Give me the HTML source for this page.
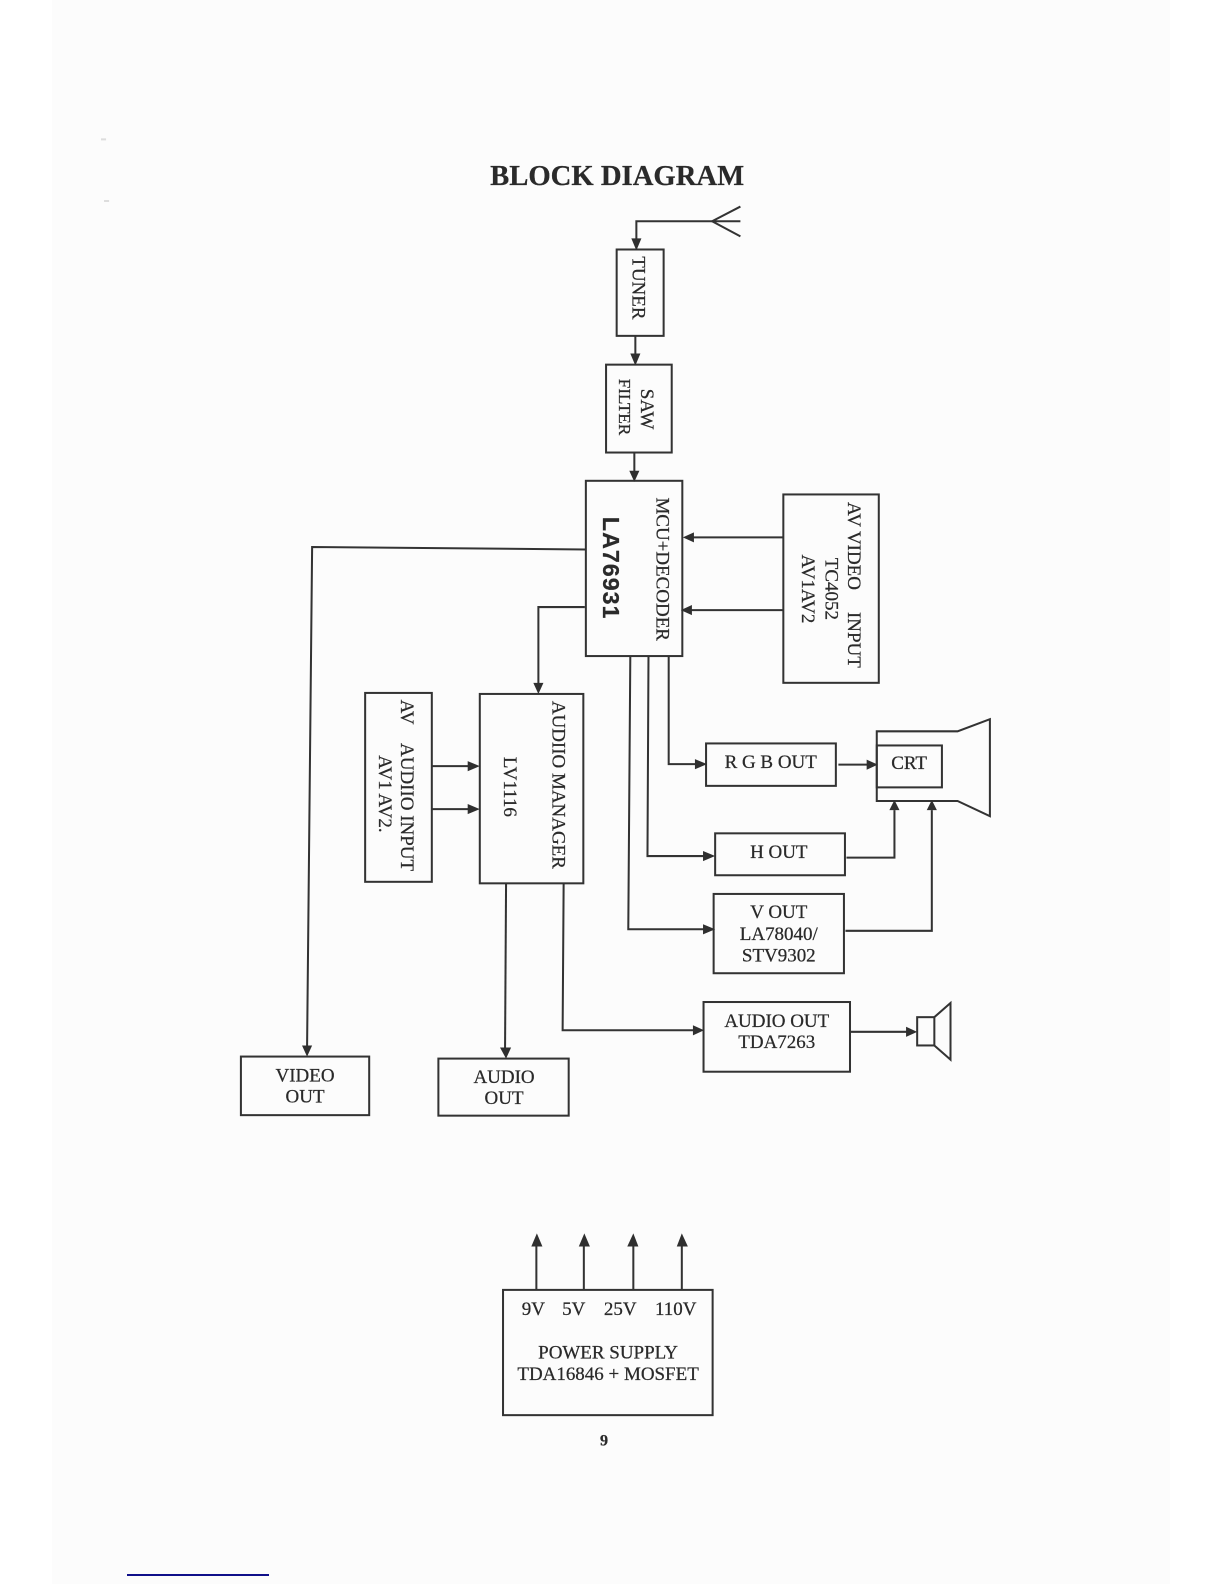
<!DOCTYPE html>
<html><head><meta charset="utf-8"><title>Block Diagram</title>
<style>html,body{margin:0;padding:0;background:#fff}svg{display:block}
text{font-family:"Liberation Serif",serif;fill:#2a2a2a;font-size:18.8px;text-anchor:middle;stroke:#2a2a2a;stroke-width:.25px}
.b{fill:none;stroke:#333;stroke-width:2}
.l{fill:none;stroke:#333;stroke-width:2}
.a{fill:#2f2f2f}</style></head><body>
<svg width="1224" height="1584" viewBox="0 0 1224 1584" xmlns="http://www.w3.org/2000/svg">
<rect x="52" y="0" width="1118" height="1584" fill="#fcfcfc"/>
<rect x="127" y="1574" width="142" height="2" fill="#10108a"/>
<g transform="scale(1.0101)">
<rect x="100" y="137" width="5" height="2" fill="#ddd"/>
<rect x="103" y="198" width="5" height="2" fill="#ddd"/>
<text x="611" y="183" style="font-size:28.4px;font-weight:bold">BLOCK DIAGRAM</text>

<!-- boxes -->
<rect class="b" x="610.500" y="247" width="46.500" height="85.500"/>
<rect class="b" x="600" y="361" width="65" height="87"/>
<rect class="b" x="580" y="476" width="95.500" height="173.500"/>
<rect class="b" x="775.500" y="489.500" width="94.500" height="186.500"/>
<rect class="b" x="361.500" y="686" width="66" height="187"/>
<rect class="b" x="475" y="687" width="102.500" height="187.500"/>
<rect class="b" x="699" y="736" width="128.500" height="42"/>
<rect class="b" x="708" y="825" width="128.500" height="41.500"/>
<rect class="b" x="706.500" y="885" width="129" height="78.500"/>
<rect class="b" x="696.500" y="992" width="145" height="69"/>
<rect class="b" x="238.500" y="1046" width="127" height="58"/>
<rect class="b" x="434" y="1048" width="129" height="56.500"/>
<rect class="b" x="498" y="1277" width="207.500" height="124"/>
<!-- CRT -->
<path class="b" d="M868 724H948L980 712V808L948 793H868Z"/>
<rect class="b" x="868" y="738" width="64.500" height="41.500"/>
<!-- speaker -->
<rect class="b" x="908" y="1007" width="17" height="28"/>
<path class="b" d="M925 1007L941 993V1049L925 1035"/>
<!-- antenna -->
<path class="l" d="M733 204.500L705 219L733 234M705 219H733"/>

<!-- connectors -->
<path class="l" d="M705 219H630V238"/>
<path class="a" d="M625 236H635L630 248Z"/>
<path class="l" d="M629 333V352"/><path class="a" d="M624 350H634L629 362Z"/>
<path class="l" d="M628 448V467"/><path class="a" d="M623 466H633L628 477Z"/>
<path class="l" d="M775 532H685"/><path class="a" d="M687 527V537L676 532Z"/>
<path class="l" d="M775 604H684"/><path class="a" d="M685 599V609L674 604Z"/>
<path class="l" d="M580 544L309 541.500L304 1037"/><path class="a" d="M299 1035H309L304 1046Z"/>
<path class="l" d="M579 601H533V678"/><path class="a" d="M528 676H538L533 687Z"/>
<path class="l" d="M428 758.500H465"/><path class="a" d="M463 753.500V763.500L475 758.500Z"/>
<path class="l" d="M427 801H465"/><path class="a" d="M463 796V806L475 801Z"/>
<path class="l" d="M501 875L500 1038"/><path class="a" d="M495 1037H506L501 1048Z"/>
<path class="l" d="M558 875L557 1020H688"/><path class="a" d="M686 1015V1025L697 1020Z"/>
<path class="l" d="M662 650V756.500H690"/><path class="a" d="M688 751.500V761.500L700 756.500Z"/>
<path class="l" d="M642 650L641 847.500H698"/><path class="a" d="M696 842.500V852.500L708 847.500Z"/>
<path class="l" d="M624 650L622 920H698"/><path class="a" d="M696 915V925L708 920Z"/>
<path class="l" d="M830 757H860"/><path class="a" d="M858 752V762L869 757Z"/>
<path class="l" d="M838 849H885.500V802"/><path class="a" d="M880.500 802H890.500L885.500 792Z"/>
<path class="l" d="M837 921.500H922.500V802"/><path class="a" d="M917.500 802H927.500L922.500 792Z"/>
<path class="l" d="M842 1021.500H898"/><path class="a" d="M897 1016.500V1026.500L908 1021.500Z"/>
<path class="l" d="M531 1277V1230"/><path class="a" d="M526 1234H537L531.500 1221Z"/>
<path class="l" d="M578 1277V1230"/><path class="a" d="M573 1234H584L578.500 1221Z"/>
<path class="l" d="M627 1277V1230"/><path class="a" d="M621 1234H632L627 1221Z"/>
<path class="l" d="M675 1277V1230"/><path class="a" d="M670 1234H681L675 1221Z"/>

<!-- rotated labels -->
<text transform="translate(626 285) rotate(90)">TUNER</text>
<text transform="translate(634.500 405) rotate(90)">SAW</text>
<text transform="translate(613 403) rotate(90)" style="font-size:17px">FILTER</text>
<text transform="translate(650 563.500) rotate(90)">MCU+DECODER</text>
<text transform="translate(597 562.500) rotate(90)" style="font-family:'Liberation Sans',sans-serif;font-weight:bold;font-size:23px;letter-spacing:1px">LA76931</text>
<text transform="translate(839.500 540.500) rotate(90)">AV VIDEO</text>
<text transform="translate(839.500 633.500) rotate(90)">INPUT</text>
<text transform="translate(817 583) rotate(90)">TC4052</text>
<text transform="translate(794 583) rotate(90)">AV1AV2</text>
<text transform="translate(397 705) rotate(90)">AV</text>
<text transform="translate(397 799) rotate(90)">AUDIIO INPUT</text>
<text transform="translate(375 786) rotate(90)">AV1 AV2.</text>
<text transform="translate(547 777) rotate(90)">AUDIIO MANAGER</text>
<text transform="translate(499 779) rotate(90)">LV1116</text>

<!-- horizontal labels -->
<text x="763" y="760.500">R G B OUT</text>
<text x="900" y="761.500">CRT</text>
<text x="771" y="849.500">H OUT</text>
<text x="771" y="909">V OUT</text>
<text x="771" y="930.500">LA78040/</text>
<text x="771" y="952">STV9302</text>
<text x="769" y="1016.500">AUDIO OUT</text>
<text x="769" y="1037.500">TDA7263</text>
<text x="302" y="1070.500">VIDEO</text>
<text x="302" y="1091.500">OUT</text>
<text x="499" y="1072">AUDIO</text>
<text x="499" y="1093">OUT</text>
<text x="528" y="1302">9V</text>
<text x="568" y="1302">5V</text>
<text x="614" y="1302">25V</text>
<text x="669" y="1302">110V</text>
<text x="602" y="1345">POWER SUPPLY</text>
<text x="602" y="1366">TDA16846 + MOSFET</text>
<text x="598" y="1431" style="font-size:16px;font-weight:bold">9</text>
</g>
</svg>
</body></html>
